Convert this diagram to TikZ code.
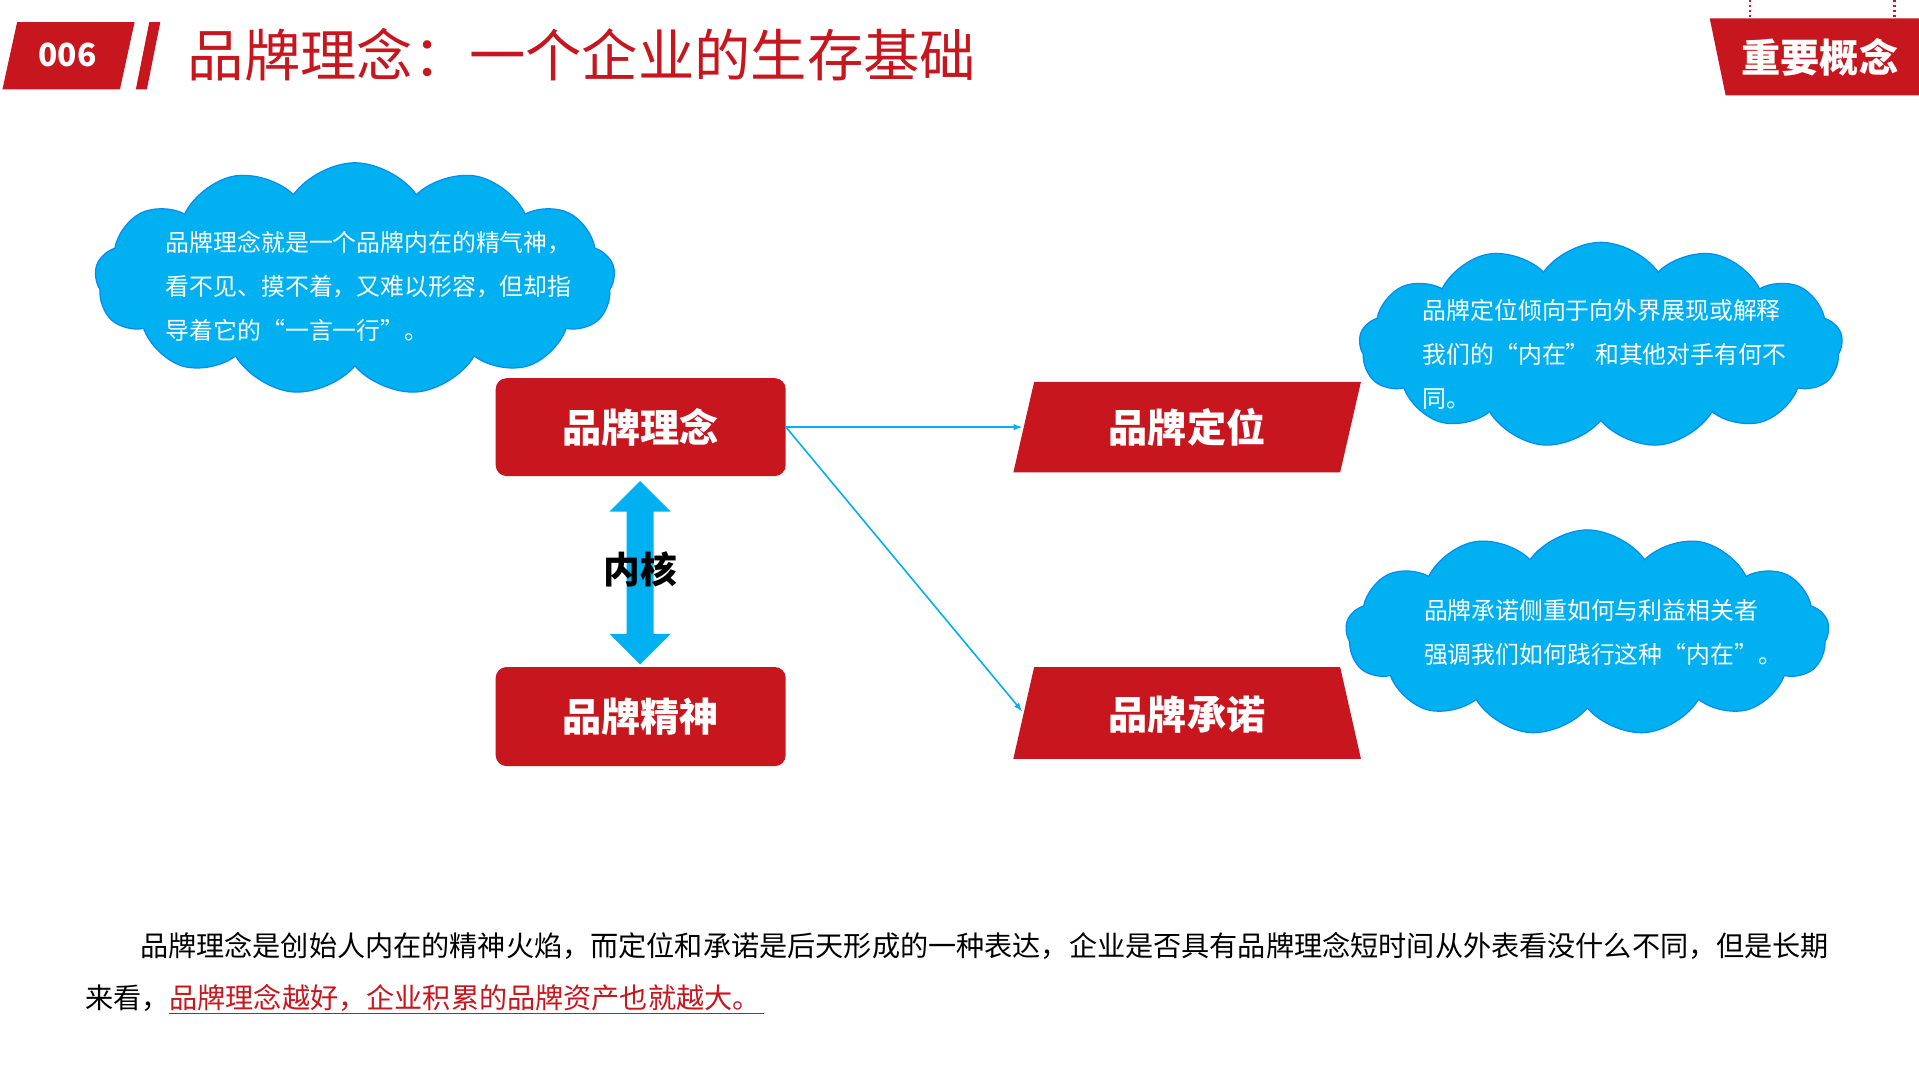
\documentclass[tikz,border=0pt]{standalone}
\usepackage{fontspec}
\setmainfont{Noto Sans CJK SC}
\usetikzlibrary{shapes.symbols}
\definecolor{rd}{RGB}{200,22,30}
\definecolor{cy}{RGB}{0,176,240}
\tikzset{
 cld/.style={cloud, cloud puffs=13, cloud puff arc=110, fill=cy, draw=cy!80!blue, line width=1pt, inner sep=0pt},
 ctxt/.style={text=white, font=\fontsize{19.5}{36}\selectfont, align=left, anchor=north west},
 box/.style={fill=rd, rounded corners=9pt, text=white, font=\fontsize{32}{36}\selectfont\bfseries},
 lbl/.style={text=white, font=\fontsize{32}{36}\selectfont\bfseries},
 ln/.style={cy, line width=1.3pt, -latex}
}
\begin{document}
\begin{tikzpicture}[x=1pt,y=-1pt]
\useasboundingbox (0,0) rectangle (1568,882);
\fill[white] (0,0) rectangle (1568,882);
% header
\fill[rd] (14,18) -- (110,18) -- (98,73) -- (2,73) -- cycle;
\node[text=white,font=\fontsize{26}{30}\selectfont\bfseries] (num) at (55,45) {006};
\fill[rd] (122,18) -- (131,18) -- (120,73) -- (111,73) -- cycle;
\node[text=rd,font=\fontsize{46}{50}\selectfont,anchor=west] (title) at (150,45) {品牌理念：一个企业的生存基础};
\fill[rd] (1397,15) -- (1568,15) -- (1568,78) -- (1410,78) -- cycle;
\node[text=white,font=\fontsize{32}{36}\selectfont\bfseries] (imp) at (1487,47) {重要概念};
\draw[rd,line width=2pt,dotted] (1430,0) -- (1430,15);
\draw[rd,line width=2pt,dotted] (1548,0) -- (1548,15);
% clouds
\node[cld, minimum width=425, minimum height=190] (c1) at (290,228) {};
\node[ctxt] (t1) at (132,185) {品牌理念就是一个品牌内在的精气神，\\看不见、摸不着，又难以形容，但却指\\导着它的“一言一行”。};
\node[cld, minimum width=395, minimum height=168] (c2) at (1308,282) {};
\node[ctxt] (t2) at (1159,241) {品牌定位倾向于向外界展现或解释\\我们的“内在” 和其他对手有何不\\同。};
\node[cld, minimum width=395, minimum height=168] (c3) at (1297,517) {};
\node[ctxt] (t3) at (1160,486) {品牌承诺侧重如何与利益相关者\\强调我们如何践行这种“内在”。};
% boxes
\node[box, minimum width=237, minimum height=80] (a) at (523.5,349) {品牌理念};
\node[box, minimum width=237, minimum height=81] (b) at (523.5,585.5) {品牌精神};
\fill[rd] (845,312) -- (1112,312) -- (1095,386) -- (828,386) -- cycle;
\node[lbl] (c) at (970,349) {品牌定位};
\fill[rd] (845,545) -- (1095,545) -- (1112,620) -- (828,620) -- cycle;
\node[lbl] (d) at (970,584) {品牌承诺};
\coordinate (ce) at (835,349);
\coordinate (de) at (835,581);
\draw[ln] (a.east) -- (ce);
\draw[ln] (a.east) -- (de);
% double arrow
\fill[cy] (523,393) -- (548,418) -- (534,418) -- (534,518) -- (548,518) -- (523,543) -- (498,518) -- (512,518) -- (512,418) -- (498,418) -- cycle;
\node[font=\fontsize{30}{34}\selectfont\bfseries] (k) at (523,465) {内核};
% bottom text
\node[anchor=west,font=\fontsize{23}{26}\selectfont] (p1) at (111,773) {品牌理念是创始人内在的精神火焰，而定位和承诺是后天形成的一种表达，企业是否具有品牌理念短时间从外表看没什么不同，但是长期};
\node[anchor=west,font=\fontsize{23}{26}\selectfont] (p2) at (66,815) {来看，\textcolor{rd}{品牌理念越好，企业积累的品牌资产也就越大。}};
\draw[rd,line width=1pt] (138,828) -- (624,828);
\end{tikzpicture}
\end{document}
